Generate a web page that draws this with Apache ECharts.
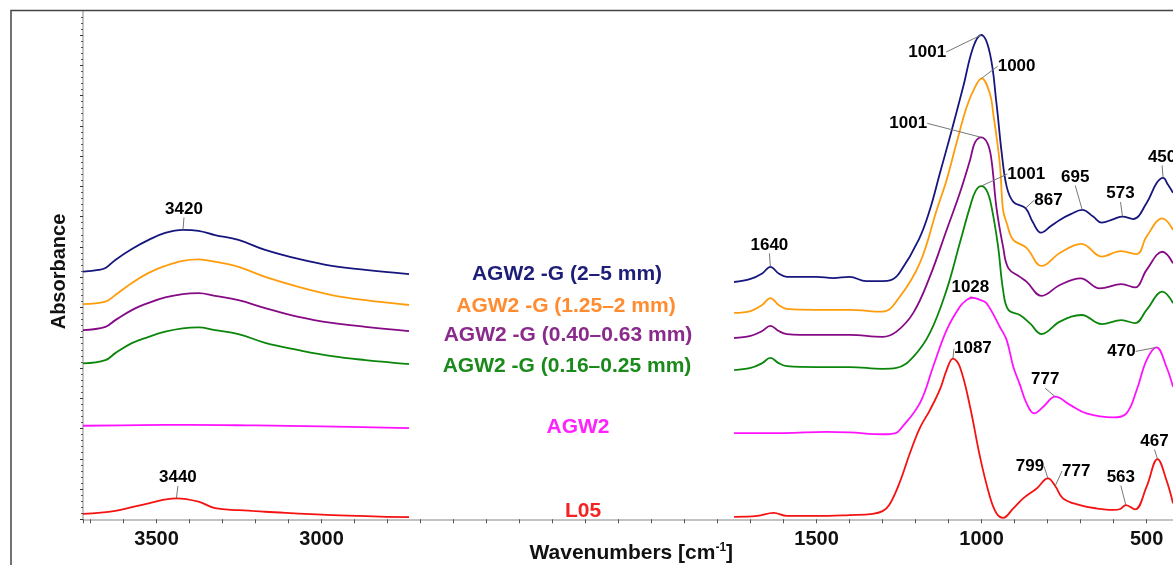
<!DOCTYPE html>
<html lang="en">
<head>
<meta charset="UTF-8">
<title>FTIR spectra AGW2</title>
<script src="https://cdn.jsdelivr.net/npm/echarts@6.0.0/dist/echarts.min.js"></script>
<style>
  html, body { margin: 0; padding: 0; background: #fff; }
  #main { width: 1173px; height: 565px; }
</style>
</head>
<body>
<div id="main"></div>
<script>
// tick labels
var wavenumberTicks = [3500, 3000, 1500, 1000, 500];
var absorbanceTicks = [0, 1, 2, 3, 4, 5, 6, 7, 8, 9, 10, 11, 12, 13, 14, 15, 16];

// sample names (top to bottom)
var sampleNames = ['AGW2 -G (2–5 mm)', 'AGW2 -G (1.25–2 mm)', 'AGW2 -G (0.40–0.63 mm)',
                   'AGW2 -G (0.16–0.25 mm)', 'AGW2', 'L05'];

// spectra, [wavenumber, absorbance (offset, arbitrary units)]
// high wavenumber part
var g25Left = [[3723,8.18],[3676,8.24],[3655,8.30],[3625,8.57],[3575,8.93],[3524,9.23],[3474,9.46],[3420,9.56],
  [3373,9.53],[3323,9.39],[3252,9.23],[3171,8.90],[3070,8.60],[2969,8.37],[2867,8.24],[2735,8.10]];
var g12Left = [[3723,7.11],[3655,7.19],[3625,7.41],[3575,7.81],[3524,8.14],[3474,8.37],[3421,8.54],[3373,8.59],
  [3323,8.51],[3252,8.34],[3171,8.01],[3070,7.68],[2969,7.41],[2867,7.24],[2735,7.08]];
var g04Left = [[3723,6.25],[3655,6.36],[3625,6.58],[3575,6.91],[3524,7.15],[3474,7.33],[3421,7.44],[3373,7.47],
  [3323,7.38],[3252,7.24],[3171,6.98],[3070,6.69],[2969,6.49],[2867,6.36],[2735,6.22]];
var g016Left = [[3723,5.15],[3655,5.26],[3625,5.49],[3575,5.82],[3524,6.03],[3474,6.20],[3421,6.31],[3373,6.34],
  [3323,6.25],[3252,6.12],[3171,5.83],[3070,5.59],[2969,5.39],[2867,5.26],[2735,5.13]];
var agw2Left = [[3723,3.09],[3550,3.11],[3400,3.12],[3200,3.10],[3000,3.07],[2735,3.01]];
var l05Left = [[3723,0.18],[3625,0.28],[3524,0.53],[3440,0.69],[3373,0.58],[3323,0.37],[3250,0.30],
  [3171,0.25],[2969,0.14],[2735,0.07]];

// fingerprint part
var g25Right = [[1750,7.84],[1700,7.94],[1665,8.12],[1640,8.34],[1615,8.12],[1590,8.01],[1500,8.01],[1450,7.97],
  [1400,8.01],[1350,7.87],[1300,7.87],[1275,7.90],[1248,8.15],[1190,9.25],[1157,10.22],[1126,11.45],[1096,12.63],
  [1056,14.28],[1025,15.61],[1001,16.00],[975,15.40],[955,13.75],[939,12.10],[924,10.99],[904,10.49],[867,10.28],
  [845,9.82],[820,9.47],[790,9.69],[763,9.89],[730,10.08],[695,10.22],[662,10.00],[636,9.80],[600,9.92],
  [573,10.00],[541,9.92],[500,10.45],[470,11.10],[450,11.28],[435,11.05],[420,10.79]];
var g12Right = [[1750,6.82],[1700,6.88],[1665,7.08],[1640,7.31],[1615,7.08],[1590,6.95],[1500,6.92],[1400,6.92],
  [1300,6.86],[1248,7.35],[1187,8.47],[1136,10.22],[1106,11.21],[1076,12.43],[1045,13.63],[1020,14.28],
  [1000,14.57],[975,14.07],[965,13.42],[945,11.77],[935,10.22],[924,9.79],[904,9.23],[864,8.97],[818,8.37],
  [763,8.80],[697,9.10],[636,8.68],[578,8.86],[530,8.76],[500,9.34],[452,9.94],[420,9.56]];
var g04Right = [[1750,5.99],[1700,6.06],[1665,6.22],[1640,6.39],[1615,6.22],[1590,6.12],[1500,6.09],[1400,6.09],
  [1300,6.03],[1258,6.20],[1207,6.82],[1157,8.01],[1106,9.56],[1066,10.78],[1035,11.87],[1020,12.45],
  [1001,12.62],[982,12.42],[970,11.87],[955,10.30],[935,9.01],[919,8.30],[884,8.01],[864,7.85],[818,7.38],
  [763,7.74],[700,7.96],[642,7.63],[576,7.77],[535,7.66],[500,8.24],[452,8.84],[420,8.46]];
var g016Right = [[1750,4.93],[1700,5.00],[1665,5.16],[1640,5.33],[1615,5.16],[1590,5.06],[1500,5.03],[1400,5.03],
  [1300,4.97],[1258,5.00],[1207,5.37],[1157,6.15],[1106,7.58],[1066,9.13],[1035,10.33],[1018,10.85],
  [1001,11.01],[984,10.85],[970,10.33],[950,9.01],[935,7.58],[919,6.92],[884,6.75],[854,6.48],[818,6.12],
  [763,6.53],[697,6.75],[636,6.45],[576,6.58],[535,6.48],[500,6.92],[452,7.52],[420,7.14]];
var agw2Right = [[1750,2.85],[1600,2.85],[1470,2.89],[1400,2.87],[1300,2.81],[1260,2.85],[1248,2.95],[1187,3.84],
  [1147,5.04],[1106,6.25],[1066,7.02],[1045,7.25],[1028,7.32],[1005,7.25],[985,7.14],[945,6.36],[924,5.92],
  [904,5.04],[884,4.45],[864,3.84],[841,3.50],[813,3.72],[777,4.05],[732,3.78],[682,3.50],[601,3.37],
  [561,3.50],[530,4.27],[500,5.26],[470,5.68],[440,5.04],[420,4.38]];
var l05Right = [[1750,0.08],[1680,0.11],[1630,0.21],[1590,0.11],[1500,0.11],[1400,0.14],[1330,0.18],[1300,0.27],
  [1280,0.47],[1250,1.17],[1217,2.19],[1187,3.02],[1157,3.60],[1126,4.30],[1106,4.93],[1087,5.31],[1066,5.04],
  [1035,3.72],[1005,2.07],[975,0.75],[955,0.20],[935,0.05],[904,0.36],[874,0.69],[833,1.02],[799,1.35],
  [777,1.10],[753,0.69],[702,0.47],[652,0.36],[601,0.31],[580,0.34],[563,0.47],[535,0.33],[500,1.08],
  [467,1.99],[440,1.30],[420,0.53]];

var leftParts = [g25Left, g12Left, g04Left, g016Left, agw2Left, l05Left];
var rightParts = [g25Right, g12Right, g04Right, g016Right, agw2Right, l05Right];

// peak annotations
var peakSample = [0, 5, 0, 0, 1, 2, 3, 0, 0, 0, 0, 4, 5, 4, 4, 5, 5, 5, 5];
var peakWavenumber = [3420, 3440, 1640, 1001, 1000, 1001, 1001, 867, 695, 573, 450, 1028, 1087, 777, 470, 799, 777, 563, 467];

// styling
var FONT = "'Liberation Sans', Arial, Helvetica, sans-serif";
var lineColors = ['#16167e', '#ff9c0c', '#860a86', '#0b860b', '#ff12ff', '#f41212'];
var textColors = ['#1e1e78', '#ff8c30', '#8a2a8a', '#1a8a1a', '#ff22ff', '#f42222'];
var namePos = [[567, 274], [566, 306.5], [568, 335], [567, 366.5], [578, 427.5], [583, 511.5]];
// label centre offset from the peak (px) and leader line points (px, relative to peak)
var labelOffset = [[1,-21],[1.5,-21],[-1,-22],[-54,17],[35,-12],[-73,-14],[45,-12],[23,-8],[-7,-33],[-2,-23],
  [-1,-21],[-2,-10],[20,-10],[-10,-17],[-35,4],[-18,-12],[21,-15],[-5,-28],[-3,-18]];
var leader = [
  [[0,-1],[0,-14]], [[0,-1],[0,-14]], [[0,-1],[0,-14]], [[0,-1],[-51,5]], [[0,0],[27,-3]],
  [[0,0],[-71,-5]], [[0,0],[37,-2]], [[0,0],[10,-3]], [[0,0],[0,-20],[-8,-25]], [[0,0],[0,-12]],
  [[0,0],[0,-12]], [[0,0],[-20,0]], [[0,0],[16,-2]], [[0,0],[-2,-6],[-17,-8]], [[0,0],[-15,1]],
  [[0,0],[-16,-2]], [[0,0],[2,-7],[8,-10]], [[0,0],[0,-13],[-4,-18]], [[0,0],[0,-9]]
];

function valueAt(idx, nu) {
  var pts = leftParts[idx].concat(rightParts[idx]);
  for (var i = 0; i < pts.length; i++) {
    if (pts[i][0] === nu) return pts[i][1];
  }
  for (var j = 0; j < pts.length - 1; j++) {
    var a = pts[j], b = pts[j + 1];
    if (nu <= a[0] && nu >= b[0]) {
      return a[1] + (b[1] - a[1]) * (a[0] - nu) / (a[0] - b[0]);
    }
  }
  return null;
}

var myChart = echarts.init(document.getElementById('main'), null, { renderer: 'canvas' });

var series = [];
for (var s = 0; s < 6; s++) {
  [leftParts[s], rightParts[s]].forEach(function (part) {
    series.push({
      name: sampleNames[s],
      type: 'line',
      data: part,
      showSymbol: false,
      smooth: 0.4,
      silent: true,
      lineStyle: { color: lineColors[s], width: 1.8 },
      itemStyle: { color: lineColors[s] },
      z: 2
    });
  });
}

series.push({
  type: 'scatter',
  silent: true,
  symbolSize: 0.5,
  itemStyle: { color: '#000' },
  z: 5,
  data: peakWavenumber.map(function (nu, k) { return [nu, valueAt(peakSample[k], nu)]; }),
  label: {
    show: true,
    formatter: function (p) { return String(peakWavenumber[p.dataIndex]); },
    color: '#000',
    opacity: 1,
    fontSize: 17,
    fontWeight: 'bold',
    fontFamily: FONT
  },
  labelLine: { show: true, lineStyle: { color: '#777', width: 1, opacity: 1 } },
  labelLayout: function (p) {
    var cx = p.rect.x + p.rect.width / 2;
    var cy = p.rect.y + p.rect.height / 2;
    var off = labelOffset[p.dataIndex];
    var pts = leader[p.dataIndex].map(function (q) { return [cx + q[0], cy + q[1]]; });
    if (pts.length === 2) {
      pts = [pts[0], [(pts[0][0] + pts[1][0]) / 2, (pts[0][1] + pts[1][1]) / 2], pts[1]];
    }
    return {
      x: cx + off[0],
      y: cy + off[1],
      align: 'center',
      verticalAlign: 'middle',
      labelLinePoints: pts
    };
  }
});

var graphic = [{
  type: 'rect',
  silent: true,
  shape: { x: 11, y: 10.5, width: 1400, height: 800 },
  style: { fill: 'none', stroke: '#444', lineWidth: 1.5 },
  z: 10
}];
sampleNames.forEach(function (n, i) {
  graphic.push({
    type: 'text',
    silent: true,
    style: {
      text: n, x: namePos[i][0], y: namePos[i][1],
      fill: textColors[i],
      font: 'bold 21px ' + FONT,
      textAlign: 'center', textVerticalAlign: 'middle',
      align: 'center', verticalAlign: 'middle'
    }
  });
});

var option = {
  animation: false,
  backgroundColor: '#fff',
  grid: { left: 83, right: -6.6, top: 11.7, bottom: 45.7, containLabel: false, outerBoundsMode: 'none' },
  xAxis: {
    type: 'value',
    inverse: true,
    min: 400,
    max: 3723,
    interval: 100,
    offset: 4,
    axisLine: { lineStyle: { color: '#b0b0b0', width: 1.5 } },
    axisTick: { length: 4, lineStyle: { color: '#555', width: 1 } },
    axisLabel: {
      customValues: wavenumberTicks,
      formatter: function (v) { return String(v); },
      margin: 6,
      color: '#111',
      fontSize: 20,
      fontWeight: 'bold',
      fontFamily: FONT
    },
    splitLine: { show: false },
    name: '{a|Wavenumbers [cm}{s|-1}{a|]}',
    nameLocation: 'middle',
    nameMoveOverlap: false,
    nameGap: 18,
    nameTextStyle: {
      rich: {
        a: { fontSize: 21, fontWeight: 'bold', fontFamily: FONT, color: '#111', lineHeight: 24 },
        s: { fontSize: 12, fontWeight: 'bold', fontFamily: FONT, color: '#111', lineHeight: 12, verticalAlign: 'top' }
      }
    }
  },
  yAxis: {
    type: 'value',
    min: 0,
    max: 16.77,
    interval: 1,
    axisLine: { show: true, lineStyle: { color: '#c4c4c4', width: 2 } },
    axisTick: { show: true, customValues: absorbanceTicks, length: 3, lineStyle: { color: '#333' } },
    minorTick: { show: true, splitNumber: 5, length: 2, lineStyle: { color: '#555' } },
    axisLabel: { show: false },
    splitLine: { show: false },
    name: 'Absorbance',
    nameLocation: 'middle',
    nameMoveOverlap: false,
    nameRotate: 90,
    nameGap: 14,
    nameTextStyle: { fontSize: 20, fontWeight: 'bold', fontFamily: FONT, color: '#111', padding: [0, 12, 0, 0] }
  },
  graphic: graphic,
  series: series
};

myChart.setOption(option);
</script>
</body>
</html>
